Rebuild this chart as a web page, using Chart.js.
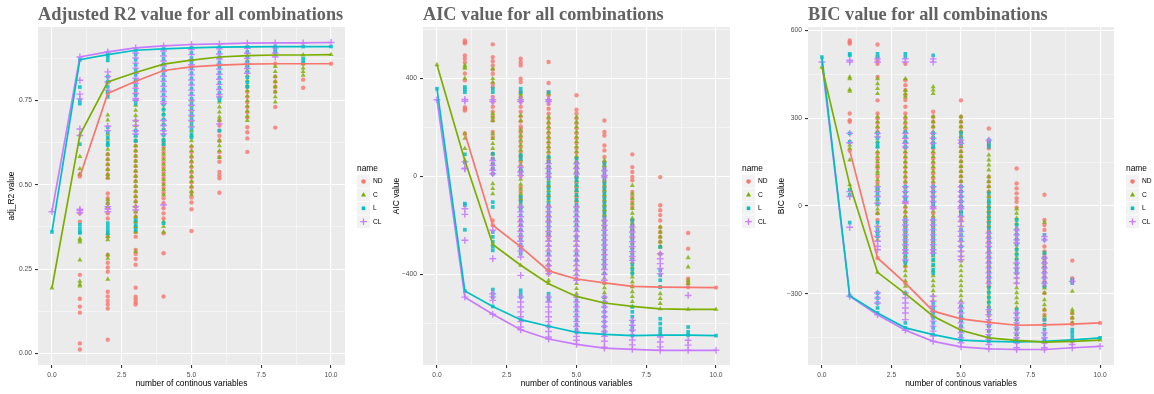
<!DOCTYPE html>
<html>
<head>
<meta charset="utf-8">
<script src="https://cdn.jsdelivr.net/npm/chart.js@4.4.1/dist/chart.umd.min.js"></script>
<style>
  body { margin: 0; background: #fff; }
  #wrap { position: relative; width: 1154px; height: 394px; }
  canvas { position: absolute; top: 0; }
</style>
</head>
<body>
<div id="wrap">
  <canvas id="r2" width="385" height="394" style="left:0"></canvas>
  <canvas id="aic" width="385" height="394" style="left:385px"></canvas>
  <canvas id="bic" width="384" height="394" style="left:770px"></canvas>
</div>
<script>
// groups and styling
const groups = ['ND', 'C', 'L', 'CL'];
const lineColors = ['#F8766D', '#7CAE00', '#00BFC4', '#C77CFF'];
const pointColors = ['rgba(248,118,109,0.8)', 'rgba(124,174,0,0.8)', 'rgba(0,191,196,0.85)', 'rgba(199,124,255,0.9)'];
const shapes = ['circle', 'triangle', 'rect', 'cross'];

// x axis (number of continuous variables)
const xTicks = [0, 2.5, 5, 7.5, 10];
const xMinor = [1.25, 3.75, 6.25, 8.75];

// ---- adjusted R2: one list of values per x = 0..10 ----
const r2ND = [
  [],
  [0.53, 0.524, 0.415, 0.39, 0.233, 0.162, 0.139, 0.121, 0.03, 0.012],
  [0.77, 0.59, 0.575, 0.56, 0.545, 0.53, 0.52, 0.474, 0.46, 0.445, 0.43, 0.415, 0.40, 0.346, 0.292, 0.269, 0.255, 0.242, 0.183, 0.169, 0.156, 0.145, 0.133, 0.041],
  [0.806, 0.79, 0.77, 0.75, 0.63, 0.615, 0.60, 0.585, 0.57, 0.555, 0.54, 0.525, 0.51, 0.495, 0.48, 0.465, 0.45, 0.435, 0.42, 0.405, 0.39, 0.375, 0.36, 0.346, 0.307, 0.295, 0.28, 0.263, 0.195, 0.168, 0.16, 0.152, 0.145],
  [0.838, 0.626, 0.61, 0.595, 0.58, 0.565, 0.55, 0.535, 0.52, 0.505, 0.49, 0.475, 0.46, 0.445, 0.43, 0.415, 0.40, 0.356, 0.297, 0.169],
  [0.849, 0.612, 0.597, 0.582, 0.567, 0.552, 0.537, 0.522, 0.507, 0.492, 0.477, 0.462, 0.447, 0.427, 0.363],
  [0.854, 0.69, 0.675, 0.66, 0.645, 0.63, 0.597, 0.582, 0.568, 0.538, 0.528, 0.519, 0.476],
  [0.857, 0.79, 0.775, 0.76, 0.745, 0.73, 0.715, 0.70, 0.67, 0.655, 0.637, 0.597],
  [0.858, 0.82, 0.805, 0.79, 0.775, 0.73, 0.669],
  [0.858, 0.811, 0.787],
  [0.858]
];
const r2C = [
  [0.194],
  [0.647, 0.583, 0.547, 0.531, 0.34, 0.335, 0.33, 0.277, 0.214, 0.205, 0.2],
  [0.804, 0.706, 0.691, 0.65, 0.635, 0.62, 0.605, 0.59, 0.575, 0.56, 0.545, 0.53, 0.52, 0.455, 0.445, 0.435, 0.356, 0.346, 0.337, 0.292, 0.282, 0.22],
  [0.832, 0.735, 0.72, 0.705, 0.69, 0.675, 0.66, 0.645, 0.63, 0.615, 0.60, 0.585, 0.57, 0.555, 0.54, 0.525, 0.51, 0.495, 0.48, 0.465, 0.45, 0.435, 0.42, 0.405, 0.39, 0.375, 0.36, 0.302],
  [0.857, 0.74, 0.725, 0.71, 0.695, 0.68, 0.665, 0.65, 0.635, 0.62, 0.605, 0.59, 0.575, 0.56, 0.545, 0.53, 0.515, 0.50, 0.485, 0.47, 0.39, 0.376, 0.36],
  [0.869, 0.75, 0.735, 0.72, 0.705, 0.69, 0.675, 0.66, 0.645, 0.63, 0.615, 0.60, 0.585, 0.57, 0.555, 0.54, 0.525, 0.51, 0.495, 0.48, 0.47],
  [0.878, 0.76, 0.745, 0.73, 0.715, 0.70, 0.69, 0.63, 0.615, 0.60, 0.58],
  [0.882, 0.868, 0.853, 0.838, 0.823, 0.808, 0.793, 0.778, 0.763, 0.748, 0.733, 0.718, 0.703, 0.69],
  [0.884, 0.85, 0.835, 0.82, 0.805, 0.79, 0.775, 0.76, 0.745],
  [0.884, 0.858, 0.845, 0.835, 0.824],
  [0.885]
];
const r2L = [
  [0.36],
  [0.87, 0.789, 0.75, 0.74, 0.62, 0.381, 0.37, 0.36, 0.357],
  [0.885, 0.878, 0.868, 0.82, 0.805, 0.79, 0.775, 0.76, 0.67, 0.655, 0.64, 0.625, 0.617, 0.386, 0.375, 0.365, 0.356],
  [0.898, 0.885, 0.87, 0.855, 0.84, 0.825, 0.81, 0.795, 0.78, 0.765, 0.75, 0.74, 0.66, 0.645, 0.63, 0.395, 0.38, 0.366],
  [0.902, 0.887, 0.872, 0.857, 0.842, 0.827, 0.812, 0.797, 0.782, 0.767, 0.752, 0.737, 0.722, 0.707, 0.692, 0.677, 0.662, 0.647, 0.632, 0.62, 0.386],
  [0.905, 0.89, 0.875, 0.86, 0.845, 0.83, 0.815, 0.80, 0.785, 0.77, 0.755, 0.74, 0.725, 0.71, 0.695, 0.68, 0.665, 0.65, 0.64],
  [0.907, 0.892, 0.877, 0.862, 0.847, 0.832, 0.817, 0.802, 0.787, 0.772, 0.757, 0.75, 0.66],
  [0.908, 0.893, 0.878, 0.863, 0.848, 0.833, 0.818, 0.803, 0.79],
  [0.909, 0.9, 0.893],
  [0.909, 0.873, 0.863],
  [0.909]
];
const r2CL = [
  [0.42],
  [0.878, 0.809, 0.768, 0.754, 0.665, 0.646, 0.427, 0.423, 0.417],
  [0.893, 0.834, 0.82, 0.804, 0.78, 0.673, 0.66, 0.435, 0.428, 0.42],
  [0.905, 0.89, 0.875, 0.86, 0.845, 0.83, 0.815, 0.80, 0.785, 0.77, 0.755, 0.75, 0.69, 0.675, 0.66, 0.65, 0.435, 0.425],
  [0.911, 0.896, 0.881, 0.866, 0.851, 0.836, 0.821, 0.806, 0.791, 0.776, 0.761, 0.746, 0.74, 0.69, 0.675, 0.66, 0.65, 0.44],
  [0.915, 0.90, 0.885, 0.87, 0.855, 0.84, 0.825, 0.81, 0.795, 0.78, 0.765, 0.75, 0.735, 0.72, 0.705, 0.69, 0.671],
  [0.917, 0.902, 0.887, 0.872, 0.857, 0.842, 0.827, 0.812, 0.797, 0.782, 0.767, 0.76, 0.68],
  [0.919, 0.904, 0.889, 0.874, 0.859, 0.844, 0.83],
  [0.92, 0.905, 0.89, 0.878],
  [0.92],
  [0.921]
];
// best value per x
const r2LineND = [null, 0.524, 0.77, 0.806, 0.838, 0.849, 0.854, 0.857, 0.858, 0.858, 0.858];
const r2LineC = [0.194, 0.647, 0.804, 0.832, 0.857, 0.869, 0.878, 0.882, 0.884, 0.884, 0.885];
const r2LineL = [0.36, 0.87, 0.885, 0.898, 0.902, 0.905, 0.907, 0.908, 0.909, 0.909, 0.909];
const r2LineCL = [0.42, 0.878, 0.893, 0.905, 0.911, 0.915, 0.917, 0.919, 0.92, 0.92, 0.921];
const r2Ticks = [0, 0.25, 0.5, 0.75];
const r2Minor = [0.125, 0.375, 0.625, 0.875];

// ---- AIC ----
const aicND = [
  [],
  [555, 548, 543, 494, 480, 465, 420, 392, 282, 275, 269, 175],
  [539, 487, 470, 453, 436, 419, 378, 365, 324, 304, 284, 264, 244, 228, 181, 160, 92, 72, 52, 32, 11, -180, -199],
  [480, 466, 453, 399, 385, 344, 324, 304, 284, 264, 244, 224, 204, 194, 180, 160, 140, 120, 100, 80, 60, 40, 20, 0, -44, -64, -84, -98, -180, -200, -220, -248, -288],
  [467, 381, 344, 330, 310, 296, 276, 256, 236, 216, 196, 176, 156, 136, 116, 96, 76, 65, 40, 0, -40, -80, -120, -160, -180, -234, -248, -363, -386],
  [331, 272, 256, 236, 216, 196, 176, 156, 136, 116, 96, 76, 56, 36, 16, -4, -24, -44, -64, -84, -104, -125, -419],
  [228, 181, 167, 126, 106, 79, 58, 38, -3, -23, -43, -63, -83, -103, -123, -143, -163, -183, -207, -435],
  [90, 38, 18, -2, -16, -64, -84, -104, -125, -180, -200, -220, -248, -449],
  [-3, -118, -138, -158, -180, -207, -227, -247, -267, -287, -316, -452],
  [-231, -295, -418, -435, -452],
  [-454]
];
const aicC = [
  [456],
  [453, 446, 441, 400, 174, 155, 114, 65],
  [439, 399, 385, 256, 242, 228, 174, 154, 134, 114, 92, -30, -50, -71, -278],
  [337, 324, 310, 249, 228, 188, 168, 148, 128, 108, 88, 68, 48, 28, 8, -12, -32, -52, -72, -92, -112, -125, -363],
  [337, 317, 242, 222, 202, 182, 162, 142, 122, 102, 82, 62, 42, 22, 2, -18, -38, -58, -78, -98, -118, -138, -158, -178, -198, -218, -238, -258, -278, -298, -318, -338, -358, -378, -398, -425, -438],
  [242, 222, 202, 182, 162, 142, 122, 102, 82, 62, 42, 22, 2, -18, -38, -58, -78, -98, -118, -138, -158, -178, -198, -218, -238, -258, -278, -298, -318, -338, -358, -378, -398, -418, -438, -458, -479, -490],
  [65, 45, 25, 5, -15, -35, -55, -75, -95, -115, -135, -155, -175, -195, -215, -235, -255, -275, -295, -315, -335, -355, -375, -395, -415, -435, -455, -475, -495, -517],
  [-37, -71, -91, -111, -131, -151, -171, -191, -211, -231, -251, -271, -291, -311, -331, -351, -371, -391, -411, -431, -451, -471, -491, -511, -531],
  [-207, -227, -247, -267, -287, -316, -479, -499, -519, -541],
  [-332, -370, -424, -438, -543],
  [-543]
];
const aicL = [
  [358],
  [365, 355, 344, 90, 57, -111, -118, -218, -468],
  [358, 344, 92, 72, 52, 32, 11, -105, -125, -227, -247, -267, -287, -302, -462, -478, -493, -531],
  [358, 344, 86, 72, 31, 18, -84, -104, -125, -139, -159, -179, -199, -219, -239, -259, -279, -299, -316, -465, -480, -493, -585],
  [344, 79, 59, 39, 25, 11, -9, -29, -49, -69, -89, -109, -129, -149, -169, -189, -209, -234, -316, -479, -493, -506, -612],
  [72, 52, 32, 12, -3, -16, -36, -56, -76, -96, -116, -136, -156, -176, -196, -216, -248, -316, -343, -506, -526, -546, -566, -586, -606, -626, -637],
  [52, 32, 12, -8, -28, -48, -68, -88, -108, -128, -148, -168, -188, -208, -228, -248, -268, -288, -308, -328, -348, -368, -397, -493, -513, -533, -553, -573, -593, -613, -633, -645],
  [-180, -200, -220, -240, -260, -280, -300, -320, -340, -360, -380, -397, -533, -553, -573, -593, -613, -628, -650],
  [-288, -384, -404, -424, -452, -581, -601, -621, -635, -648],
  [-615, -635, -648],
  [-650]
];
const aicCL = [
  [313],
  [314, 307, 60, 33, 31, -132, -155, -261, -493],
  [313, 305, 65, 45, 25, 11, -220, -336, -479, -492, -506, -563],
  [313, 305, 38, 18, 4, -125, -145, -165, -185, -205, -225, -245, -265, -285, -305, -329, -404, -493, -513, -533, -553, -573, -593, -615, -626],
  [313, 305, 52, 32, 12, -3, -125, -145, -165, -185, -205, -225, -245, -265, -285, -305, -325, -345, -365, -385, -397, -493, -513, -533, -553, -573, -593, -613, -633, -656, -664],
  [52, 32, 11, -125, -145, -165, -185, -205, -225, -245, -265, -285, -305, -325, -345, -365, -385, -405, -424, -493, -513, -533, -553, -573, -593, -613, -633, -653, -669, -686],
  [24, 4, -3, -180, -200, -220, -240, -260, -280, -300, -320, -340, -360, -380, -400, -424, -493, -513, -533, -553, -573, -593, -613, -633, -653, -673, -697, -701],
  [-207, -227, -247, -267, -287, -307, -327, -343, -588, -608, -628, -648, -668, -688, -706],
  [-316, -336, -356, -376, -397, -656, -676, -696, -710],
  [-486, -669, -689, -710],
  [-710]
];
const aicLineND = [null, 175, -199, -288, -386, -419, -435, -449, -452, -453, -454];
const aicLineC = [456, 65, -278, -363, -438, -490, -517, -531, -541, -543, -543];
const aicLineL = [358, -468, -531, -585, -612, -637, -645, -650, -648, -648, -650];
const aicLineCL = [313, -493, -563, -626, -664, -686, -701, -706, -710, -710, -710];
const aicTicks = [-400, 0, 400];
const aicMinor = [-600, -200, 200, 600];

// ---- BIC ----
const bicND = [
  [],
  [566, 560, 555, 316, 293, 288, 189],
  [552, 509, 497, 486, 441, 361, 316, 300, 284, 268, 253, 180, 160, 140, 130, 100, 80, 60, -25, -48, -178],
  [486, 430, 413, 396, 379, 362, 339, 316, 299, 282, 265, 250, 233, 216, 199, 182, 165, 148, 131, 114, 97, 80, 63, 46, 29, 12, -5, -22, -39, -56, -73, -90, -107, -124, -141, -158, -175, -192, -207, -264],
  [322, 305, 288, 271, 248, 231, 214, 197, 180, 163, 146, 129, 112, 95, 78, 61, 44, 27, 10, -7, -24, -41, -58, -75, -92, -109, -126, -143, -161, -360],
  [361, 305, 288, 271, 254, 237, 220, 203, 186, 169, 152, 135, 118, 101, 84, 67, 50, 33, 16, -1, -18, -35, -48, -386],
  [265, 219, 208, 197, 100, 83, 66, 49, 32, -2, -19, -36, -53, -70, -87, -104, -121, -138, -155, -172, -189, -206, -223, -240, -257, -275, -398],
  [128, 77, 60, 43, 26, 14, -5, -408],
  [38, -48, -65, -82, -139, -156, -173, -190, -207, -224, -241, -258, -275, -298, -355, -372, -389, -407],
  [-187, -247, -258, -366, -383, -400, -405],
  [-400]
];
const bicC = [
  [475],
  [441, 435, 398, 392, 219, 208, 197, 157, 72],
  [435, 418, 401, 384, 305, 288, 271, 254, 237, 220, 203, 186, 169, 152, 135, 118, 111, 89, 72, 55, 38, 21, 4, -11, -25, -70, -87, -104, -116, -227],
  [435, 395, 384, 373, 305, 288, 271, 254, 237, 220, 203, 186, 169, 152, 135, 118, 101, 84, 67, 50, 33, 16, -1, -18, -35, -52, -69, -86, -103, -120, -137, -154, -171, -188, -205, -222, -239, -256, -275, -300],
  [407, 396, 384, 305, 288, 271, 254, 237, 220, 203, 186, 169, 152, 135, 118, 101, 84, 67, 50, 33, 16, -1, -18, -35, -52, -69, -86, -103, -120, -137, -154, -171, -188, -205, -222, -239, -256, -273, -290, -307, -324, -341, -358, -377],
  [305, 288, 271, 254, 237, 220, 203, 186, 169, 152, 135, 118, 101, 84, 67, 50, 33, 16, -1, -18, -35, -52, -69, -86, -103, -120, -137, -154, -171, -188, -205, -222, -239, -256, -273, -290, -307, -324, -341, -358, -375, -392, -409, -425],
  [174, 157, 140, 123, 100, 83, 66, 49, 32, 15, -2, -19, -36, -53, -70, -87, -104, -121, -138, -155, -172, -189, -206, -223, -240, -257, -274, -291, -308, -325, -342, -359, -376, -393, -410, -427, -451],
  [-11, -25, -42, -59, -76, -93, -110, -127, -144, -161, -178, -195, -212, -229, -246, -263, -280, -297, -314, -331, -348, -365, -389, -420, -440, -460],
  [-56, -161, -178, -195, -207, -281, -298, -321, -338, -355, -377, -466],
  [-292, -355, -366, -383, -400, -463],
  [-459]
];
const bicL = [
  [509],
  [520, 515, 248, 219, 55, 38, -57, -307],
  [520, 509, 248, 231, 214, 202, 60, 43, 26, 9, -57, -82, -93, -104, -298, -315, -332, -349, -366],
  [520, 509, 253, 236, 219, 202, 66, 49, 32, 20, -48, -65, -82, -99, -116, -133, -150, -167, -184, -195, -298, -400, -417],
  [515, 248, 231, 214, 202, 66, 49, 32, 15, 2, -48, -65, -82, -99, -116, -133, -150, -167, -184, -201, -218, -230, -332, -349, -366, -383, -400, -417, -440],
  [248, 231, 214, 66, 49, 32, 15, -2, -19, -30, -82, -99, -116, -139, -343, -360, -377, -394, -411, -428, -445, -459],
  [225, 214, 202, 43, 20, 9, -8, -25, -42, -59, -76, -93, -110, -127, -144, -161, -178, -195, -212, -229, -246, -263, -280, -297, -314, -331, -348, -366, -411, -428, -445, -463],
  [-48, -65, -82, -99, -116, -133, -150, -167, -184, -201, -218, -230, -355, -372, -389, -406, -423, -440, -457, -465],
  [-99, -116, -161, -178, -195, -212, -229, -246, -263, -275, -389, -406, -423, -440, -457, -463],
  [-252, -264, -423, -434, -446, -458],
  [-451]
];
const bicCL = [
  [492],
  [498, 492, 248, 216, 49, 32, -73, -309],
  [503, 492, 248, 236, 66, 49, 32, 9, -70, -87, -104, -121, -138, -150, -298, -315, -332, -372],
  [503, 492, 248, 231, 214, 202, 66, 49, 32, 15, 9, -48, -65, -82, -99, -116, -133, -150, -162, -185, -298, -315, -332, -349, -366, -389, -425],
  [503, 492, 248, 231, 214, 66, 49, 32, 15, -2, -9, -48, -65, -82, -99, -116, -133, -150, -161, -309, -326, -343, -360, -377, -394, -411, -428, -445, -463],
  [225, 214, 66, 49, 32, 15, -2, -9, -36, -53, -70, -87, -104, -121, -138, -155, -172, -184, -332, -349, -366, -383, -400, -417, -434, -451, -468, -482],
  [225, -93, -110, -127, -139, -161, -178, -195, -212, -229, -246, -264, -355, -372, -389, -406, -423, -440, -457, -474, -489],
  [-82, -99, -116, -127, -195, -212, -229, -246, -264, -366, -383, -400, -417, -434, -451, -468, -485, -491],
  [-105, -116, -178, -195, -212, -229, -246, -264, -434, -451, -468, -485, -491],
  [-258, -463, -474, -485],
  [-480]
];
const bicLineND = [null, 189, -178, -264, -360, -386, -398, -408, -407, -404, -400];
const bicLineC = [475, 72, -227, -300, -377, -425, -451, -460, -466, -463, -459];
const bicLineL = [509, -307, -366, -417, -440, -459, -463, -465, -463, -458, -451];
const bicLineCL = [492, -309, -372, -425, -463, -482, -489, -491, -491, -485, -480];
const bicTicks = [-300, 0, 300, 600];
const bicMinor = [-450, -150, 150, 450];

Chart.defaults.font.family = '"Liberation Sans", Arial, sans-serif';

const sansFont = '"Liberation Sans", Arial, sans-serif';

// grey panel behind the plot
const panelBg = {
  id: 'panelBg',
  beforeDraw(chart) {
    const a = chart.chartArea;
    chart.ctx.save();
    chart.ctx.fillStyle = '#EBEBEB';
    chart.ctx.fillRect(a.left, a.top, a.right - a.left, a.bottom - a.top);
    chart.ctx.restore();
  }
};

function drawKey(ctx, i, x, y) {
  ctx.fillStyle = lineColors[i];
  ctx.strokeStyle = lineColors[i];
  ctx.beginPath();
  if (shapes[i] === 'circle') {
    ctx.arc(x, y, 2.2, 0, Math.PI * 2);
    ctx.fill();
  } else if (shapes[i] === 'triangle') {
    ctx.moveTo(x, y - 2.8);
    ctx.lineTo(x + 2.5, y + 1.5);
    ctx.lineTo(x - 2.5, y + 1.5);
    ctx.closePath();
    ctx.fill();
  } else if (shapes[i] === 'rect') {
    ctx.fillRect(x - 1.8, y - 1.8, 3.6, 3.6);
  } else {
    ctx.lineWidth = 1.3;
    ctx.moveTo(x - 3.3, y); ctx.lineTo(x + 3.3, y);
    ctx.moveTo(x, y - 3.3); ctx.lineTo(x, y + 3.3);
    ctx.stroke();
  }
}

// ggplot-style legend on the right
const keyLegend = {
  id: 'keyLegend',
  afterDraw(chart) {
    const ctx = chart.ctx;
    const x0 = chart.chartArea.right + 12;
    const y0 = 169;
    ctx.save();
    ctx.textBaseline = 'middle';
    ctx.fillStyle = '#000';
    ctx.font = '8.4px ' + sansFont;
    ctx.fillText('name', x0, y0);
    groups.forEach((g, i) => {
      const cy = 181.5 + i * 13.4;
      ctx.fillStyle = '#F2F2F2';
      ctx.fillRect(x0, cy - 6.3, 13, 12.6);
      drawKey(ctx, i, x0 + 6.5, cy);
      ctx.fillStyle = '#000';
      ctx.font = '6.7px ' + sansFont;
      ctx.fillText(g, x0 + 16, cy);
    });
    ctx.restore();
  }
};

function tickSetup(major, minor, fmt) {
  const minorSet = new Set(minor);
  return {
    afterBuildTicks: s => {
      s.ticks = major.concat(minor).sort((a, b) => a - b).map(v => ({ value: v }));
    },
    grid: {
      color: '#FFFFFF',
      lineWidth: c => (c.tick && minorSet.has(c.tick.value)) ? 0.5 : 1.1,
      tickColor: c => (c.tick && minorSet.has(c.tick.value)) ? 'rgba(0,0,0,0)' : '#333333',
      tickLength: 3,
      drawTicks: true
    },
    border: { display: false },
    ticks: {
      autoSkip: false,
      maxRotation: 0,
      color: '#4D4D4D',
      font: { size: 6.7 },
      callback: v => minorSet.has(v) ? '' : fmt(v)
    }
  };
}

function makeChart(id, title, yTitle, stacks, lines, yMin, yMax, yMajor, yMinorTicks, fmt) {
  const datasets = [];
  lines.forEach((ln, i) => {
    datasets.push({
      label: groups[i] + ' best',
      data: ln.map((y, x) => y === null ? null : { x, y }).filter(p => p),
      showLine: true,
      borderColor: lineColors[i],
      borderWidth: 1.7,
      pointRadius: 0,
      order: 0
    });
  });
  stacks.forEach((st, i) => {
    datasets.push({
      label: groups[i],
      data: st.flatMap((ys, x) => ys.map(y => ({ x, y }))),
      showLine: false,
      pointStyle: shapes[i],
      pointRadius: [2.2, 2.9, 2.6, 3.4][i],
      backgroundColor: pointColors[i],
      borderColor: pointColors[i],
      borderWidth: i === 3 ? 1.4 : 0,
      order: 4 - i
    });
  });

  const xs = tickSetup(xTicks, xMinor, v => v.toFixed(1));
  const ys = tickSetup(yMajor, yMinorTicks, fmt);

  return new Chart(document.getElementById(id), {
    type: 'scatter',
    data: { datasets },
    options: {
      responsive: false,
      animation: false,
      events: [],
      layout: { padding: { left: 0, right: 40, top: 0, bottom: 0 } },
      plugins: {
        legend: { display: false },
        tooltip: { enabled: false },
        title: {
          display: true,
          text: title,
          align: 'start',
          fullSize: false,
          color: '#626262',
          font: { family: '"Liberation Serif", "Times New Roman", serif', weight: 'bold', size: 18.3 },
          padding: { top: 4, bottom: 1 }
        }
      },
      scales: {
        x: Object.assign(xs, {
          type: 'linear',
          min: -0.5,
          max: 10.5,
          afterFit: s => { s.height = 29; },
          title: {
            display: true,
            text: 'number of continous variables',
            color: '#000',
            font: { size: 8.4 },
            padding: { top: 0, bottom: 5 }
          }
        }),
        y: Object.assign(ys, {
          type: 'linear',
          min: yMin,
          max: yMax,
          afterFit: s => { s.width = 38; },
          title: {
            display: true,
            text: yTitle,
            color: '#000',
            font: { size: 8.4 },
            padding: { top: 7, bottom: 0 }
          }
        })
      }
    },
    plugins: [panelBg, keyLegend]
  });
}

const minusFmt = v => (v < 0 ? '\u2212' + Math.abs(v) : String(v));

makeChart('r2', 'Adjusted R2 value for all combinations', 'adj_R2 value',
  [r2ND, r2C, r2L, r2CL], [r2LineND, r2LineC, r2LineL, r2LineCL],
  -0.034, 0.967, r2Ticks, r2Minor, v => v.toFixed(2));

makeChart('aic', 'AIC value for all combinations', 'AIC value',
  [aicND, aicC, aicL, aicCL], [aicLineND, aicLineC, aicLineL, aicLineCL],
  -770, 610, aicTicks, aicMinor, minusFmt);

makeChart('bic', 'BIC value for all combinations', 'BIC value',
  [bicND, bicC, bicL, bicCL], [bicLineND, bicLineC, bicLineL, bicLineCL],
  -544, 612, bicTicks, bicMinor, minusFmt);
</script>
</body>
</html>
